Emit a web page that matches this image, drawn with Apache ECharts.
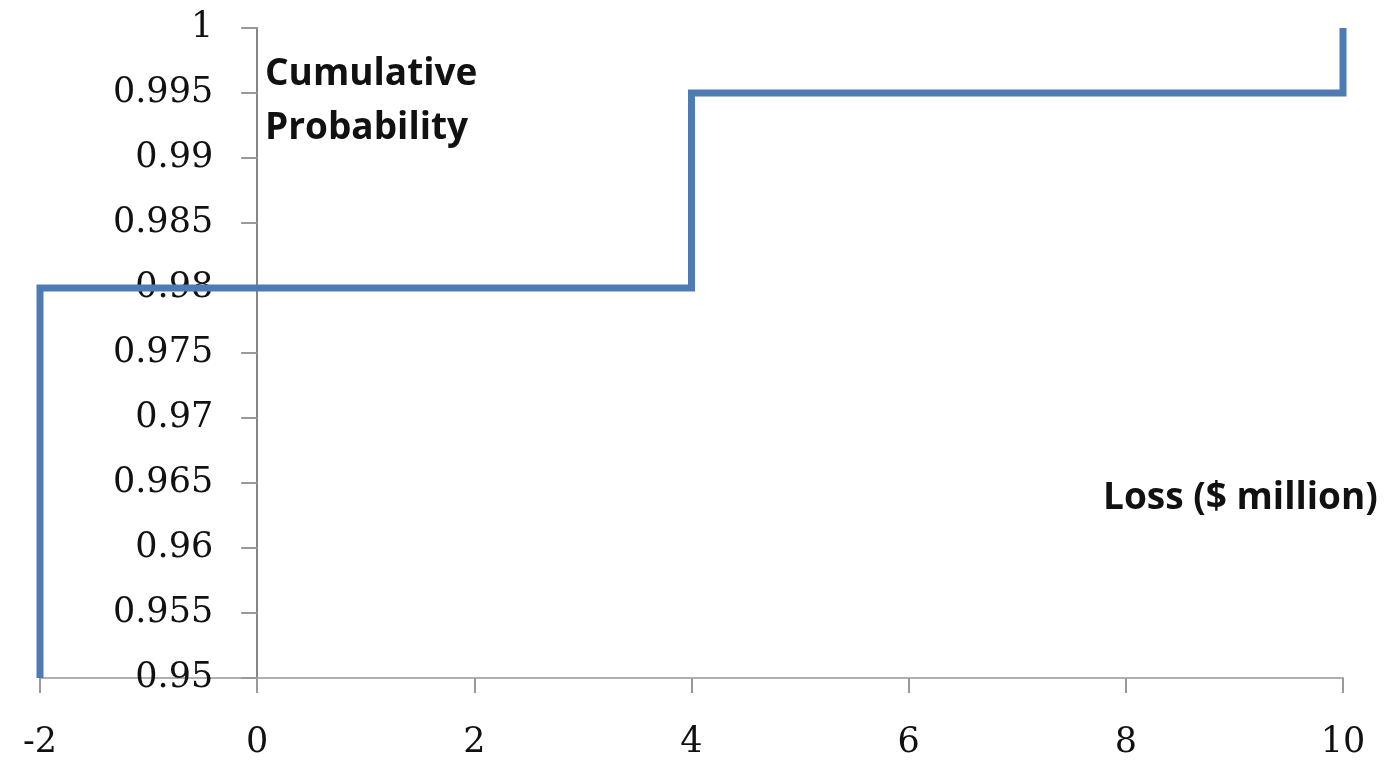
<!DOCTYPE html>
<html>
<head>
<meta charset="utf-8">
<script src="https://cdn.jsdelivr.net/npm/echarts@6/dist/echarts.min.js"></script>
<style>
  html, body { margin: 0; padding: 0; background: #fff; }
  #main { width: 1392px; height: 761px; }
</style>
</head>
<body>
<div id="main"></div>
<script>
// step points of the cumulative distribution
var lossValues = [-2, -2, 4, 4, 10, 10];
var cumProb = [0.95, 0.98, 0.98, 0.995, 0.995, 1];
var yTitle = 'Cumulative\nProbability';
var xTitle = 'Loss ($ million)';

var chart = echarts.init(document.getElementById('main'));

var points = lossValues.map(function (x, i) { return [x, cumProb[i]]; });

var gridLeft = 40;
var tickFont = {
  fontFamily: 'DejaVu Serif',
  fontSize: 35,
  color: '#111'
};

var option = {
  animation: false,
  grid: {
    left: gridLeft, right: 49, top: 28, bottom: 83,
    containLabel: false,
    outerBoundsMode: 'none'
  },
  xAxis: {
    type: 'value',
    min: -2,
    max: 10,
    interval: 2,
    splitLine: { show: false },
    axisLine: { lineStyle: { color: '#b0b0b0', width: 2 } },
    axisTick: { show: true, length: 15, lineStyle: { color: '#999', width: 2 } },
    axisLabel: Object.assign({ margin: 47 }, tickFont)
  },
  yAxis: {
    type: 'value',
    min: 0.95,
    max: 1,
    interval: 0.005,
    splitLine: { show: false },
    axisLine: { onZero: false, lineStyle: { color: '#868686', width: 2 } },
    axisTick: { show: true, inside: false, length: 16, lineStyle: { color: '#999', width: 2 } },
    axisLabel: Object.assign({
      margin: 44,
      formatter: function (v) { return String(+v.toFixed(3)); }
    }, tickFont)
  },
  graphic: [
    {
      type: 'text',
      left: 265,
      top: 47,
      style: {
        text: yTitle,
        font: 'bold 37px "Open Sans"',
        fill: '#111',
        lineHeight: 54,
        align: 'left'
      }
    },
    {
      type: 'text',
      left: 1103,
      top: 480,
      style: {
        text: xTitle,
        font: 'bold 37px "Open Sans"',
        fill: '#111'
      }
    }
  ],
  series: [{
    type: 'line',
    data: points,
    clip: false,
    symbol: 'none',
    lineStyle: { color: '#4f7bb4', width: 7, join: 'miter', cap: 'butt' }
  }]
};

chart.setOption(option);

// move the y axis (line, ticks and labels) to x = 0
var zeroX = chart.convertToPixel({ xAxisIndex: 0 }, 0);
chart.setOption({ yAxis: { offset: -(zeroX - gridLeft) } });
</script>
</body>
</html>
